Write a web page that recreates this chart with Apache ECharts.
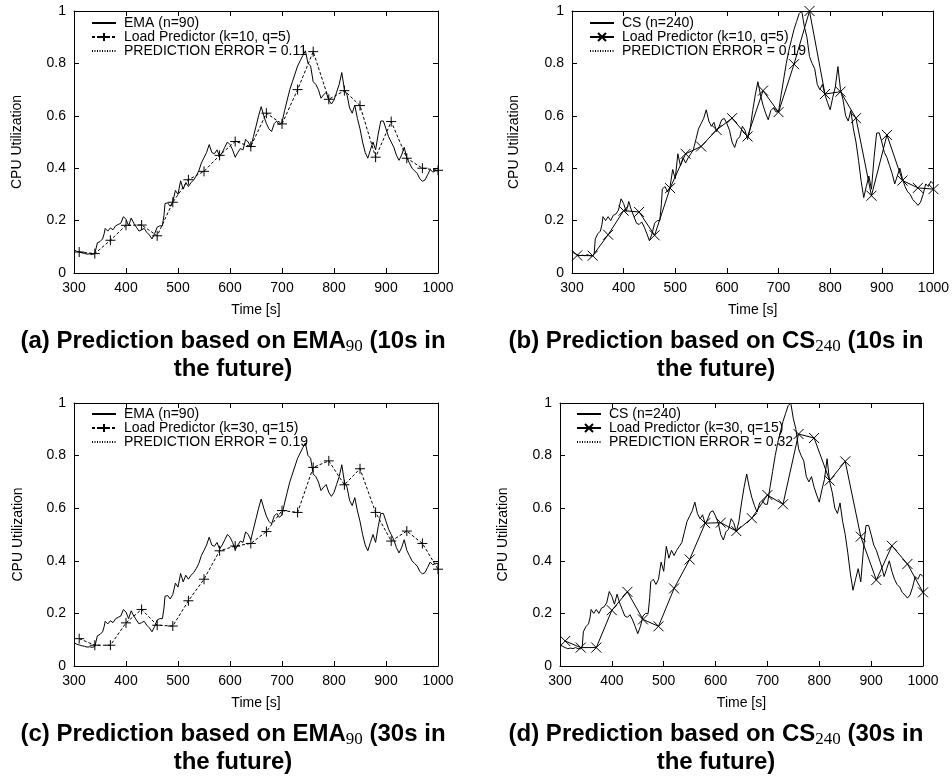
<!DOCTYPE html>
<html><head><meta charset="utf-8">
<script src="https://cdn.jsdelivr.net/npm/echarts@6/dist/echarts.min.js"></script>
<style>html,body{margin:0;padding:0;background:#fff}#c{width:952px;height:778px}</style>
</head><body><div id="c"></div>
<script>
// ---- data ----
const emaSeries = [[300,0.089],[305,0.083],[310,0.08],[315,0.077],[320,0.075],[325,0.072],[330,0.073],[335,0.071],[340,0.074],[343,0.08],[345,0.115],[350,0.12],[355,0.13],[358,0.15],[360,0.17],[365,0.16],[370,0.172],[375,0.165],[380,0.18],[385,0.185],[390,0.19],[395,0.215],[400,0.205],[405,0.18],[410,0.21],[415,0.19],[420,0.175],[425,0.16],[430,0.165],[435,0.17],[440,0.155],[445,0.145],[450,0.13],[455,0.15],[460,0.175],[465,0.18],[470,0.18],[473,0.22],[475,0.265],[480,0.268],[485,0.255],[490,0.272],[495,0.315],[500,0.30],[505,0.352],[510,0.32],[515,0.345],[520,0.33],[525,0.345],[530,0.355],[535,0.37],[540,0.39],[545,0.42],[550,0.44],[555,0.46],[560,0.49],[565,0.46],[570,0.455],[575,0.47],[580,0.445],[585,0.46],[590,0.48],[595,0.50],[600,0.49],[605,0.47],[610,0.442],[615,0.46],[620,0.475],[625,0.47],[630,0.51],[635,0.50],[640,0.48],[645,0.52],[650,0.56],[655,0.60],[660,0.635],[665,0.60],[670,0.57],[675,0.55],[680,0.54],[685,0.57],[690,0.58],[695,0.565],[700,0.575],[705,0.62],[710,0.66],[715,0.70],[720,0.73],[725,0.76],[730,0.79],[735,0.81],[740,0.83],[745,0.848],[750,0.80],[755,0.79],[760,0.73],[765,0.72],[770,0.70],[775,0.667],[780,0.68],[785,0.69],[790,0.66],[795,0.645],[800,0.66],[805,0.69],[810,0.72],[815,0.765],[820,0.70],[825,0.68],[830,0.63],[835,0.61],[840,0.64],[845,0.59],[850,0.55],[855,0.50],[860,0.46],[865,0.438],[870,0.47],[875,0.50],[880,0.47],[885,0.53],[890,0.58],[895,0.58],[900,0.55],[905,0.52],[910,0.50],[915,0.48],[920,0.45],[925,0.43],[930,0.45],[935,0.48],[940,0.44],[945,0.42],[950,0.40],[955,0.39],[960,0.38],[965,0.36],[970,0.35],[975,0.355],[980,0.375],[985,0.395],[990,0.385],[995,0.39],[1000,0.39]];

const csSeries = [[300,0.08],[305,0.075],[310,0.07],[315,0.066],[320,0.068],[325,0.066],[330,0.07],[335,0.066],[340,0.065],[343,0.075],[345,0.13],[350,0.15],[355,0.16],[358,0.185],[360,0.215],[365,0.20],[370,0.215],[375,0.20],[380,0.22],[385,0.225],[390,0.24],[395,0.283],[400,0.265],[405,0.235],[410,0.273],[415,0.24],[420,0.215],[425,0.19],[430,0.185],[435,0.195],[440,0.175],[445,0.15],[450,0.123],[455,0.15],[460,0.19],[465,0.20],[470,0.20],[473,0.26],[475,0.32],[480,0.33],[485,0.31],[490,0.33],[495,0.395],[500,0.36],[505,0.455],[510,0.41],[515,0.44],[520,0.42],[525,0.44],[530,0.455],[535,0.47],[540,0.51],[545,0.55],[550,0.57],[555,0.59],[560,0.623],[565,0.58],[570,0.56],[575,0.575],[580,0.54],[585,0.56],[590,0.585],[595,0.59],[600,0.57],[605,0.545],[610,0.50],[615,0.479],[620,0.51],[625,0.52],[630,0.56],[635,0.545],[640,0.51],[645,0.55],[650,0.62],[655,0.68],[660,0.73],[665,0.68],[670,0.64],[675,0.61],[680,0.585],[685,0.62],[690,0.63],[695,0.615],[700,0.615],[705,0.68],[710,0.74],[715,0.80],[720,0.85],[725,0.89],[730,0.93],[735,0.96],[740,0.99],[745,1.0],[750,0.94],[755,0.90],[760,0.826],[765,0.80],[770,0.78],[775,0.72],[780,0.70],[785,0.72],[790,0.68],[795,0.65],[800,0.623],[805,0.67],[810,0.71],[815,0.788],[820,0.70],[825,0.66],[830,0.60],[835,0.58],[840,0.62],[845,0.55],[850,0.50],[855,0.43],[860,0.35],[865,0.288],[870,0.33],[875,0.37],[880,0.32],[885,0.44],[890,0.534],[895,0.535],[900,0.50],[905,0.46],[910,0.44],[915,0.41],[920,0.38],[925,0.34],[930,0.37],[935,0.40],[940,0.36],[945,0.33],[950,0.31],[955,0.30],[960,0.28],[965,0.27],[970,0.258],[975,0.27],[980,0.30],[985,0.34],[990,0.33],[995,0.35],[1000,0.34]];

const predTimes = [310,340,370,400,430,460,490,520,550,580,610,640,670,700,730,760,790,820,850,880,910,940,970,1000];
const predA = [0.08,0.074,0.125,0.182,0.183,0.142,0.27,0.356,0.388,0.449,0.502,0.483,0.61,0.569,0.70,0.845,0.663,0.696,0.639,0.442,0.578,0.438,0.40,0.392];
const predB = [0.067,0.066,0.146,0.238,0.233,0.144,0.324,0.455,0.483,0.546,0.591,0.521,0.696,0.614,0.797,1.0,0.683,0.692,0.591,0.295,0.527,0.353,0.325,0.32];
const predC = [0.104,0.079,0.079,0.164,0.215,0.155,0.152,0.248,0.33,0.438,0.456,0.466,0.511,0.591,0.584,0.755,0.78,0.689,0.75,0.584,0.475,0.513,0.466,0.368];
const predD = [0.095,0.07,0.07,0.212,0.282,0.177,0.151,0.295,0.405,0.543,0.545,0.513,0.562,0.65,0.615,0.882,0.867,0.705,0.778,0.492,0.327,0.457,0.388,0.28];

const xTickValues = {min:300, max:1000, step:100};
const yTickValues = {min:0, max:1, step:0.2};

const panels = [
  {base:'EMA (n=90)', baseData: emaSeries, pred:'Load Predictor (k=10, q=5)', predData: predA, err:'PREDICTION ERROR = 0.11', dashed:true},
  {base:'CS (n=240)', baseData: csSeries, pred:'Load Predictor (k=10, q=5) ', predData: predB, err:'PREDICTION ERROR = 0.19', dashed:false},
  {base:'EMA (n=90)', baseData: emaSeries, pred:'Load Predictor (k=30, q=15)', predData: predC, err:'PREDICTION ERROR = 0.19', dashed:true},
  {base:'CS (n=240)', baseData: csSeries, pred:'Load Predictor (k=30, q=15) ', predData: predD, err:'PREDICTION ERROR = 0.32', dashed:false}
];
const titles = [
  {l1:'{b|(a) Prediction based on EMA}{s|90}{b| (10s in}', l2:'the future)'},
  {l1:'{b|(b) Prediction based on CS}{s|240}{b| (10s in}', l2:'the future)'},
  {l1:'{b|(c) Prediction based on EMA}{s|90}{b| (30s in}', l2:'the future)'},
  {l1:'{b|(d) Prediction based on CS}{s|240}{b| (30s in}', l2:'the future)'}
];

// ---- layout / style ----
const FONT = '"Liberation Sans", Arial, Helvetica, sans-serif';
const grids = [
  {left:74, top:11, width:364, height:262},
  {left:572, top:11, width:363, height:262},
  {left:74, top:403, width:364, height:263},
  {left:560, top:403, width:363, height:263}
];
const legendPos = [{left:91, top:16},{left:589, top:16},{left:91, top:407},{left:576, top:407}];
const yNameGap = [50, 51, 49, 50];
const titlePos = [{x:233, y:341},{x:716, y:341},{x:233, y:734},{x:716, y:734}];

const axisLineStyle = {show:true, onZero:false, lineStyle:{color:'#000', width:1}};
const tickStyle = {show:true, inside:true, length:5, lineStyle:{color:'#000', width:1}};
const labelStyle = {fontSize:14, color:'#000', fontFamily:FONT};

const xAxes = [], yAxes = [], series = [], legends = [], graphics = [];
const plusPath = 'path://M5,0L5,10M0,5L10,5';
const crossPath = 'path://M0,0L10,10M10,0L0,10';

grids.forEach((g, i) => {
  xAxes.push({type:'value', gridIndex:i, min:xTickValues.min, max:xTickValues.max, interval:xTickValues.step, position:'bottom',
    name:'Time [s]', nameLocation:'middle', nameGap:30, nameTextStyle:labelStyle,
    axisLine:axisLineStyle, axisTick:tickStyle,
    axisLabel:Object.assign({margin:8, formatter:(v) => String(v)}, labelStyle), splitLine:{show:false}});
  xAxes.push({type:'value', gridIndex:i, min:xTickValues.min, max:xTickValues.max, interval:xTickValues.step, position:'top',
    axisLine:axisLineStyle, axisTick:tickStyle, axisLabel:{show:false}, splitLine:{show:false}});
  yAxes.push({type:'value', gridIndex:i, min:yTickValues.min, max:yTickValues.max, interval:yTickValues.step, position:'left',
    name:'CPU Utilization', nameLocation:'middle', nameRotate:90, nameGap:yNameGap[i], nameTextStyle:labelStyle,
    axisLine:axisLineStyle, axisTick:tickStyle, axisLabel:Object.assign({margin:8}, labelStyle), splitLine:{show:false}});
  yAxes.push({type:'value', gridIndex:i, min:yTickValues.min, max:yTickValues.max, interval:yTickValues.step, position:'right',
    axisLine:axisLineStyle, axisTick:tickStyle, axisLabel:{show:false}, splitLine:{show:false}});

  const p = panels[i];
  series.push({type:'line', name:p.base, xAxisIndex:2*i, yAxisIndex:2*i, data:p.baseData, symbol:'none',
    lineStyle:{color:'#000', width:1}, itemStyle:{color:'#000'}, z:3});
  series.push({type:'line', name:p.pred, xAxisIndex:2*i, yAxisIndex:2*i,
    data:predTimes.map((t, k) => [t, p.predData[k]]),
    symbol:p.dashed ? plusPath : crossPath, symbolSize:10, showSymbol:true,
    lineStyle:{color:'#000', width:1, type:p.dashed ? [3,2] : 'solid'},
    itemStyle:{color:'#000', borderColor:'#000', borderWidth:1}, z:4});
  series.push({type:'line', name:p.err, xAxisIndex:2*i, yAxisIndex:2*i, data:[], symbol:'none',
    lineStyle:{color:'#000', width:1, type:[1,1.5]}, itemStyle:{color:'#000'}});

  legends.push({orient:'vertical', left:legendPos[i].left, top:legendPos[i].top, padding:0,
    itemWidth:24, itemHeight:10, itemGap:0, selectedMode:false,
    textStyle:{fontSize:14, color:'#000', fontFamily:FONT, lineHeight:13.5, padding:[0,0,0,3]},
    data:[{name:p.base, itemStyle:{opacity:0}}, {name:p.pred}, {name:p.err, itemStyle:{opacity:0}}]});

  graphics.push({type:'text', x:titlePos[i].x, y:titlePos[i].y, style:{text:titles[i].l1, align:'center', verticalAlign:'middle',
    rich:{b:{fontSize:24, fontWeight:'bold', fontFamily:FONT, fill:'#000', lineHeight:28},
          s:{fontSize:17, fontFamily:'"Liberation Serif", "DejaVu Serif", serif', fill:'#000', verticalAlign:'bottom', lineHeight:22}}}});
  graphics.push({type:'text', x:titlePos[i].x, y:titlePos[i].y + 28, style:{text:titles[i].l2, align:'center', verticalAlign:'middle',
    fontSize:24, fontWeight:'bold', fontFamily:FONT, fill:'#000'}});
});

const chart = echarts.init(document.getElementById('c'), null, {renderer:'canvas'});
chart.setOption({
  backgroundColor:'#fff',
  animation:false,
  grid:grids,
  xAxis:xAxes,
  yAxis:yAxes,
  legend:legends,
  series:series,
  graphic:graphics
});
</script>
</body></html>
